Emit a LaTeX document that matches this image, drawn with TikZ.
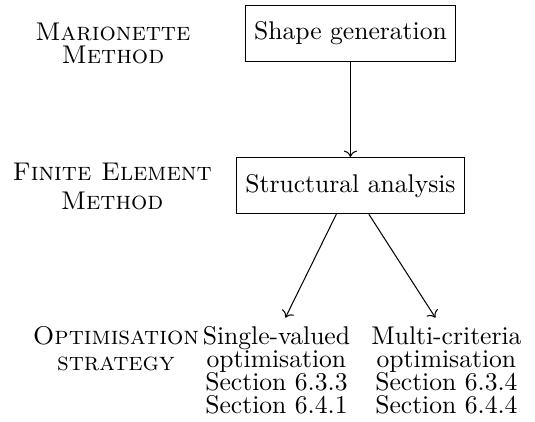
\documentclass[tikz,border=0pt]{standalone}
\usepackage{tikz}
\usetikzlibrary{arrows.meta, positioning}
\tikzset{
  box/.style={rectangle, draw=black, fill=white, text centered,
              minimum height=22pt},
  strategy/.style={align=center, inner sep=3.33pt,
                   font=\fontsize{10}{9}\selectfont},
  method/.style={align=center, font=\scshape},
  arrow/.style={->, draw=black},
}

\begin{document}
\begin{tikzpicture}
  \useasboundingbox (0,0) rectangle (209pt,-164.5pt);

  \node[box] (shape) at (136.9pt,-13.1pt) {Shape generation};
  \node[box, below=37pt of shape] (struct) {Structural analysis};

  \node[strategy, below=40.4pt of struct, xshift=-28.9pt] (single)
    {Single-valued\\optimisation\\Section 6.3.3\\Section 6.4.1};
  \node[strategy, below=40.4pt of struct, xshift=37.5pt] (multi)
    {Multi-criteria\\optimisation\\Section 6.3.4\\Section 6.4.4};

  \draw[arrow] (shape) -- (struct);
  \draw[arrow] (struct) -- ([xshift=3.5pt]single.north);
  \draw[arrow] (struct) -- ([xshift=-4.3pt]multi.north);

  % Labels on the left
  \node[method, font=\scshape\fontsize{10}{9}\selectfont] (marionette)
    at (44.1pt,-17.1pt) {Marionette\\Method};
  \node[method, font=\scshape\fontsize{10}{11.3}\selectfont] (fem)
    at (43.8pt,-73pt) {Finite Element\\Method};
  \node[method, font=\scshape\fontsize{10}{9.8}\selectfont] (optim)
    at (45.3pt,-136.2pt) {Optimisation\\strategy};
\end{tikzpicture}
\end{document}
